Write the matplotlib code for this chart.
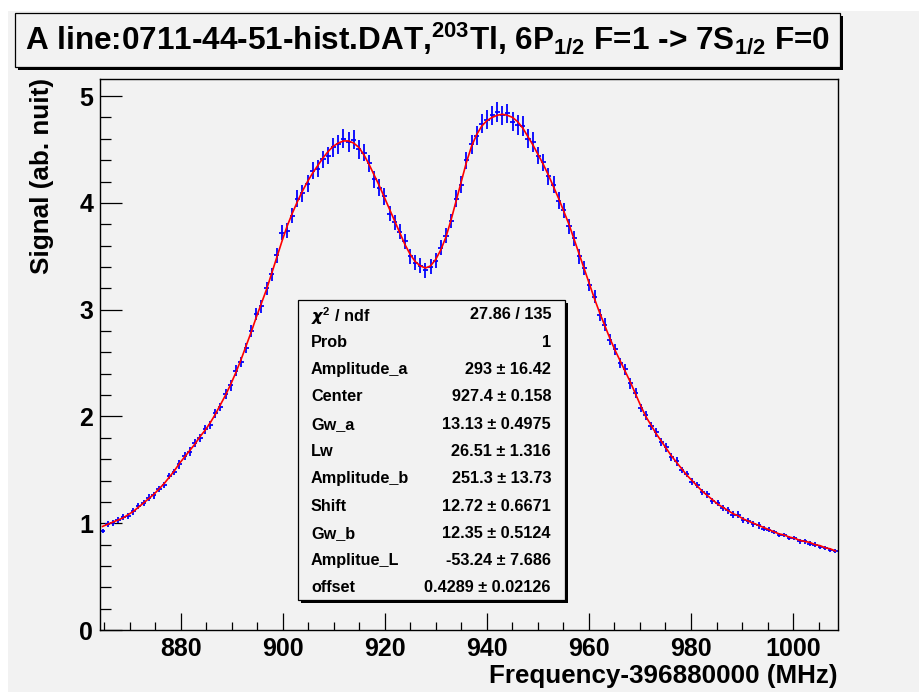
import numpy as np
import matplotlib
matplotlib.use("Agg")
import matplotlib.pyplot as plt
from matplotlib.patches import Rectangle
from matplotlib.ticker import MultipleLocator
from matplotlib import font_manager

plt.rcParams['font.family'] = ['Liberation Sans', 'DejaVu Sans']
plt.rcParams['font.weight'] = 'bold'
plt.rcParams['mathtext.default'] = 'regular'

# ---------------- data ----------------
x_low, x_high, n_bins = 864.2, 1008.8, 144

signal = [
    0.93, 0.99, 1.00, 1.03, 1.06, 1.07, 1.11, 1.16, 1.19, 1.24, 1.26, 1.32, 1.36, 1.44, 1.48, 1.55,
    1.63, 1.67, 1.75, 1.80, 1.88, 1.92, 2.03, 2.09, 2.21, 2.29,
    2.43, 2.51, 2.64, 2.80, 2.96, 3.03, 3.20, 3.33, 3.51, 3.72,
    3.74, 3.88, 4.04, 4.09, 4.18, 4.30, 4.32, 4.41, 4.44, 4.52,
    4.55, 4.60, 4.57, 4.59, 4.50, 4.47, 4.37, 4.22, 4.14, 4.06,
    3.90, 3.82, 3.73, 3.64, 3.50, 3.44, 3.41, 3.37, 3.40, 3.46,
    3.58, 3.69, 3.83, 4.04, 4.17, 4.40, 4.55, 4.63, 4.74, 4.78,
    4.82, 4.85, 4.82, 4.84, 4.76, 4.73, 4.72, 4.60, 4.57, 4.44,
    4.38, 4.25, 4.17, 4.02, 3.93, 3.78, 3.67, 3.50, 3.39, 3.23,
    3.12, 2.95, 2.86, 2.72, 2.63, 2.50, 2.44, 2.31, 2.22, 2.08,
    2.01, 1.91, 1.85, 1.76, 1.71, 1.62, 1.58, 1.50, 1.46, 1.39,
    1.36, 1.29, 1.27, 1.21, 1.19, 1.14, 1.12, 1.08, 1.08, 1.03,
    1.02, 0.99, 0.98, 0.95, 0.94, 0.92, 0.89, 0.89, 0.86, 0.86,
    0.83, 0.83, 0.81, 0.80, 0.78, 0.77, 0.75, 0.74,
]

signal_err = [
    0.02, 0.03, 0.03, 0.03, 0.03, 0.03, 0.03, 0.03, 0.03, 0.03, 0.03, 0.03, 0.03, 0.03, 0.03, 0.04,
    0.04, 0.04, 0.04, 0.04, 0.04, 0.04, 0.04, 0.04, 0.05, 0.05,
    0.05, 0.05, 0.05, 0.06, 0.06, 0.06, 0.06, 0.06, 0.07, 0.07,
    0.07, 0.07, 0.08, 0.08, 0.08, 0.08, 0.08, 0.08, 0.08, 0.09,
    0.09, 0.09, 0.09, 0.09, 0.09, 0.08, 0.08, 0.08, 0.08, 0.08,
    0.07, 0.07, 0.07, 0.07, 0.07, 0.07, 0.07, 0.07, 0.07, 0.07,
    0.07, 0.07, 0.07, 0.08, 0.08, 0.08, 0.09, 0.09, 0.09, 0.09,
    0.09, 0.09, 0.09, 0.09, 0.09, 0.09, 0.09, 0.09, 0.09, 0.08,
    0.08, 0.08, 0.08, 0.08, 0.07, 0.07, 0.07, 0.07, 0.07, 0.06,
    0.06, 0.06, 0.06, 0.05, 0.05, 0.05, 0.05, 0.05, 0.05, 0.04,
    0.04, 0.04, 0.04, 0.04, 0.04, 0.04, 0.04, 0.03, 0.03, 0.03,
    0.03, 0.03, 0.03, 0.03, 0.03, 0.03, 0.03, 0.03, 0.03, 0.03,
    0.03, 0.03, 0.03, 0.02, 0.02, 0.02, 0.02, 0.02, 0.02, 0.02,
    0.02, 0.02, 0.02, 0.02, 0.02, 0.02, 0.02, 0.02,
]

fit_curve = [
    0.97, 0.99, 1.01, 1.03, 1.05, 1.08, 1.11, 1.15, 1.19, 1.23, 1.27, 1.32, 1.37, 1.43, 1.49, 1.56,
    1.62, 1.68, 1.74, 1.81, 1.87, 1.94, 2.02, 2.11, 2.20, 2.30,
    2.41, 2.53, 2.66, 2.79, 2.93, 3.06, 3.19, 3.34, 3.49, 3.64,
    3.78, 3.90, 4.01, 4.11, 4.20, 4.28, 4.35, 4.42, 4.48, 4.53,
    4.56, 4.58, 4.58, 4.56, 4.52, 4.45, 4.36, 4.26, 4.16, 4.05,
    3.94, 3.83, 3.72, 3.61, 3.52, 3.45, 3.41, 3.39, 3.41, 3.47,
    3.56, 3.68, 3.84, 4.02, 4.20, 4.38, 4.53, 4.64, 4.72, 4.77,
    4.80, 4.82, 4.83, 4.82, 4.80, 4.76, 4.70, 4.62, 4.54, 4.45,
    4.36, 4.26, 4.15, 4.04, 3.92, 3.80, 3.66, 3.52, 3.38, 3.24,
    3.10, 2.97, 2.85, 2.73, 2.62, 2.52, 2.42, 2.32, 2.21, 2.10,
    2.00, 1.92, 1.84, 1.77, 1.70, 1.63, 1.57, 1.51, 1.45, 1.40,
    1.35, 1.30, 1.26, 1.22, 1.18, 1.15, 1.12, 1.09, 1.07, 1.04,
    1.02, 1.00, 0.98, 0.96, 0.94, 0.92, 0.90, 0.89, 0.87, 0.86,
    0.84, 0.83, 0.82, 0.80, 0.79, 0.77, 0.76, 0.74,
]

x_ticks = [880, 900, 920, 940, 960, 980, 1000]
y_ticks = [0, 1, 2, 3, 4, 5]

stat_labels = [r"$\mathit{\chi}^{2}$ / ndf", "Prob", "Amplitude_a", "Center", "Gw_a", "Lw",
               "Amplitude_b", "Shift", "Gw_b", "Amplitue_L", "offset"]
stat_values = ["27.86 / 135", "1", "293 \u00b1 16.42", "927.4 \u00b1 0.158",
               "13.13 \u00b1 0.4975", "26.51 \u00b1 1.316", "251.3 \u00b1 13.73",
               "12.72 \u00b1 0.6671", "12.35 \u00b1 0.5124", "-53.24 \u00b1 7.686",
               "0.4289 \u00b1 0.02126"]

title = r"A line:0711-44-51-hist.DAT,$^{203}$Tl, 6P$_{1/2}$ F=1 -> 7S$_{1/2}$ F=0"
x_label = "Frequency-396880000 (MHz)"
y_label = "Signal (ab. nuit)"

# ---------------- figure ----------------
W, H = 920, 692
BG = '#f2f2f2'
fig = plt.figure(figsize=(W / 100, H / 100), dpi=100)
fig.patch.set_facecolor('white')


def fx(px):
    return px / W


def fy(py):
    return 1 - py / H


fig.patches.append(Rectangle((fx(8), 0), 1, fy(11), transform=fig.transFigure,
                             facecolor=BG, edgecolor='none', zorder=-10))

ax = fig.add_axes([fx(100), fy(630), fx(838) - fx(100), fy(79) - fy(630)])
ax.set_facecolor(BG)

bin_w = (x_high - x_low) / n_bins
centers = x_low + bin_w * (np.arange(n_bins) + 0.5)

ax.errorbar(centers, signal, yerr=signal_err, xerr=bin_w / 2, fmt='none',
            ecolor='#0000ff', elinewidth=1.3, capsize=0, zorder=2)
ax.plot(centers, fit_curve, color='#ff0000', lw=1.2, zorder=3)

ax.set_xlim(x_low, x_high)
ax.set_ylim(0, 5.16)
ax.set_xticks(x_ticks)
ax.set_yticks(y_ticks)
ax.xaxis.set_minor_locator(MultipleLocator(5))
ax.yaxis.set_minor_locator(MultipleLocator(0.2))
ax.tick_params(axis='both', which='both', direction='in', top=False, right=False,
               colors='black', width=0.9)
ax.tick_params(axis='y', which='major', length=15.8, pad=5, labelsize=18)
ax.tick_params(axis='y', which='minor', length=7.9)
ax.tick_params(axis='x', which='major', length=12.2, pad=5, labelsize=18)
ax.tick_params(axis='x', which='minor', length=5.8)
for lab in ax.get_xticklabels() + ax.get_yticklabels():
    lab.set_fontweight('bold')
for sp in ax.spines.values():
    sp.set_linewidth(1.0)
    sp.set_color('black')

fig.text(fx(838), fy(683), x_label, ha='right', va='baseline', fontsize=18.7,
         fontweight='bold')
fig.text(fx(42), fy(78), y_label, ha='center', va='top', rotation=90,
         fontsize=18.7, fontweight='bold')


def shadow_box(x0, y0, x1, y1, off=3):
    fig.patches.append(Rectangle((fx(x0 + off), fy(y1 + off)), fx(x1) - fx(x0),
                                 fy(y0) - fy(y1), transform=fig.transFigure,
                                 facecolor='black', edgecolor='none', zorder=5))
    fig.patches.append(Rectangle((fx(x0), fy(y1)), fx(x1) - fx(x0), fy(y0) - fy(y1),
                                 transform=fig.transFigure, facecolor=BG,
                                 edgecolor='black', lw=0.9, zorder=6))


# title box (condensed face if available, as in the reference)
narrow = [f.name for f in font_manager.fontManager.ttflist
          if f.name == 'Liberation Sans Narrow']
title_family = ['Liberation Sans Narrow', 'DejaVu Sans'] if narrow else ['Liberation Sans', 'DejaVu Sans']
shadow_box(15, 13, 840, 67)
t = fig.text(fx(427.5), fy(49), title, ha='center', va='baseline', fontsize=22,
             fontweight='bold', family=title_family, zorder=7)
fig.canvas.draw()
bb = t.get_window_extent()
t.set_fontsize(min(23.0, 22 * 803 / bb.width))

# stats box
shadow_box(298, 300, 565, 600)
for k, (lab, val) in enumerate(zip(stat_labels, stat_values)):
    yc = 313.5 + k * 27.3
    fig.text(fx(311), fy(yc), lab, ha='left', va='center_baseline', fontsize=11.7,
             fontweight='bold', zorder=7)
    fig.text(fx(551), fy(yc), val, ha='right', va='center_baseline', fontsize=11.7,
             fontweight='bold', zorder=7)

fig.savefig('out.png', dpi=100, facecolor=fig.get_facecolor())
